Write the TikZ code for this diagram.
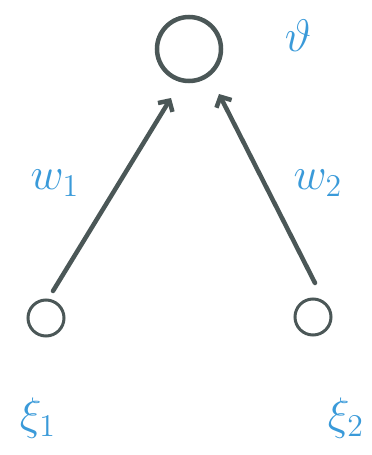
\documentclass[tikz,border=0pt]{standalone}
\usetikzlibrary{arrows.meta}
\definecolor{lbl}{HTML}{3A9AD9}
\definecolor{ink}{HTML}{4B5757}
\begin{document}
\begin{tikzpicture}[x=1pt,y=-1pt,
  neuron/.style={circle,draw=ink,line width=#1,inner sep=0pt},
  conn/.style={draw=ink,line width=4.5pt,line cap=round,-{Straight Barb[length=8pt,width=17pt,line width=4.5pt]}},
  lab/.style={text=lbl,font=\huge,scale=2.2}]
\useasboundingbox (0,0) rectangle (372,455);
\node[neuron=4.5pt,minimum size=64pt] (o) at (189,49) {};
\node[neuron=3pt,minimum size=36pt] (a) at (46,318) {};
\node[neuron=3pt,minimum size=36pt] (b) at (313,317) {};
\coordinate (as) at (53,291);
\coordinate (ae) at (171,98);
\coordinate (bs) at (315,283);
\coordinate (be) at (219,94);
\draw[conn] (as) -- (ae);
\draw[conn] (bs) -- (be);
\node[lab] (th) at (298,36) {$\vartheta$};
\node[lab] (w1) at (55,183) {$w_{1}$};
\node[lab] (w2) at (318,183) {$w_{2}$};
\node[lab] (x1) at (38,418) {$\xi_{1}$};
\node[lab] (x2) at (346,418) {$\xi_{2}$};
\end{tikzpicture}
\end{document}
